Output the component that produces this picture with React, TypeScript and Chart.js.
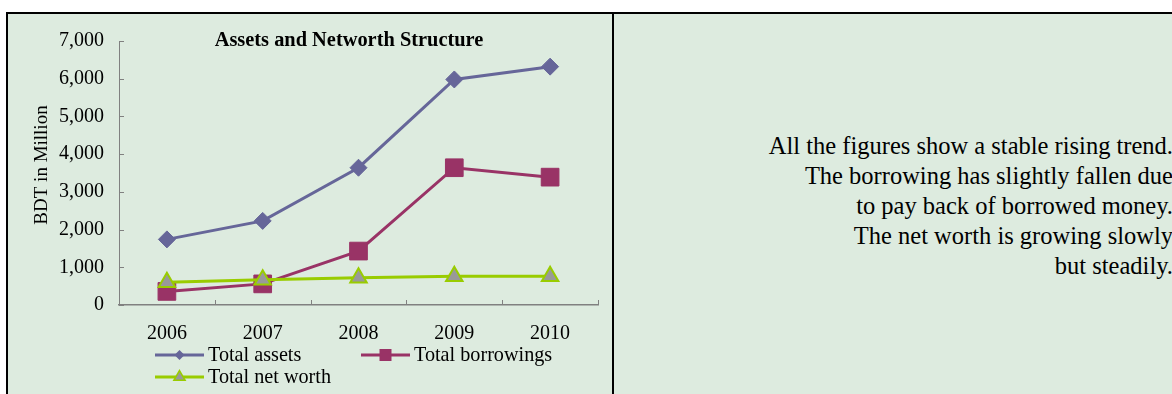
import React, { useEffect, useRef } from "react";
import { Chart, registerables } from "chart.js";

Chart.register(...registerables);

const years = ["2006", "2007", "2008", "2009", "2010"];
const totalAssets = [1740, 2230, 3640, 5980, 6320];
const totalBorrowings = [360, 560, 1430, 3640, 3390];
const totalNetWorth = [600, 670, 720, 760, 760];
const yTicks = [0, 1000, 2000, 3000, 4000, 5000, 6000, 7000];
const chartTitle = "Assets and Networth Structure";
const yTitle = "BDT in Million";
const seriesNames = ["Total assets", "Total borrowings", "Total net worth"];
const notes = [
  "All the figures show a stable rising trend.",
  "The borrowing has slightly fallen due",
  "to pay back of borrowed money.",
  "The net worth is growing slowly",
  "but steadily.",
];

const BG = "#DDEBDF";
const SERIF = "'Liberation Serif', 'Times New Roman', serif";
const C_ASSETS = "#666699";
const C_BORROW = "#993366";
const C_NET = "#99CC00";
const C_TRI = "#999999";

function drawMarker(ctx: CanvasRenderingContext2D, kind: string, x: number, y: number, r: number, fill: string, stroke: string, bw: number) {
  ctx.save();
  ctx.beginPath();
  if (kind === "diamond") {
    ctx.moveTo(x, y - r);
    ctx.lineTo(x + r, y);
    ctx.lineTo(x, y + r);
    ctx.lineTo(x - r, y);
    ctx.closePath();
  } else if (kind === "square") {
    ctx.rect(x - r, y - r, 2 * r, 2 * r);
  } else {
    const h = r * 1.5;
    const w = r * Math.sqrt(3);
    ctx.moveTo(x, y - r);
    ctx.lineTo(x + w / 2, y - r + h);
    ctx.lineTo(x - w / 2, y - r + h);
    ctx.closePath();
  }
  ctx.fillStyle = fill;
  ctx.fill();
  if (bw > 0) {
    ctx.lineWidth = bw;
    ctx.strokeStyle = stroke;
    ctx.stroke();
  }
  ctx.restore();
}

const decorPlugin = {
  id: "decor",
  beforeDatasetsDraw(chart: any) {
    const ctx = chart.ctx as CanvasRenderingContext2D;
    const xs = chart.scales.x;
    const ys = chart.scales.y;
    const { left, right, bottom } = chart.chartArea;
    ctx.save();
    ctx.strokeStyle = "#808080";
    ctx.lineWidth = 1;
    ctx.beginPath();
    for (const t of ys.ticks) {
      const py = Math.round(ys.getPixelForValue(t.value)) + 0.5;
      ctx.moveTo(left, py);
      ctx.lineTo(left + 5, py);
    }
    const n = years.length;
    for (let i = 0; i <= n; i++) {
      const px = Math.round(left + (i * (right - left)) / n) + 0.5;
      ctx.moveTo(px, bottom);
      ctx.lineTo(px, bottom - 5);
    }
    ctx.stroke();
    ctx.restore();
  },
  afterDraw(chart: any) {
    const ctx = chart.ctx as CanvasRenderingContext2D;
    ctx.save();
    ctx.fillStyle = "#000";
    // title
    ctx.font = `bold 20.4px ${SERIF}`;
    ctx.textAlign = "center";
    ctx.textBaseline = "alphabetic";
    ctx.fillText(chartTitle, 341, 31.6);
    // y title
    ctx.save();
    ctx.translate(33.7, 151);
    ctx.rotate(-Math.PI / 2);
    ctx.font = `19px ${SERIF}`;
    ctx.textAlign = "center";
    ctx.textBaseline = "middle";
    ctx.fillText(yTitle, 0, 0);
    ctx.restore();
    // legend
    const items = [
      { x: 147, y: 341, kind: "diamond", color: C_ASSETS, fill: C_ASSETS, r: 5, bw: 0 },
      { x: 353, y: 341, kind: "square", color: C_BORROW, fill: C_BORROW, r: 6, bw: 0 },
      { x: 147, y: 363, kind: "triangle", color: C_NET, fill: C_TRI, r: 6.5, bw: 1.5 },
    ];
    ctx.font = `20.2px ${SERIF}`;
    ctx.textAlign = "left";
    ctx.textBaseline = "middle";
    items.forEach((it, i) => {
      ctx.strokeStyle = it.color;
      ctx.lineWidth = 3;
      ctx.beginPath();
      ctx.moveTo(it.x, it.y);
      ctx.lineTo(it.x + 49, it.y);
      ctx.stroke();
      drawMarker(ctx, it.kind, it.x + 24.5, it.y, it.r, it.fill, it.color, it.bw);
      ctx.fillStyle = "#000";
      ctx.fillText(seriesNames[i], it.x + 53, it.y + 1);
    });
    ctx.restore();
  },
};

export default function App() {
  const ref = useRef<HTMLCanvasElement | null>(null);
  useEffect(() => {
    document.body.style.overflow = "hidden";
    if (!ref.current) return;
    const chart = new Chart(ref.current, {
      type: "line",
      data: {
        labels: years,
        datasets: [
          {
            label: seriesNames[0],
            data: totalAssets,
            borderColor: C_ASSETS,
            backgroundColor: C_ASSETS,
            borderWidth: 3,
            pointStyle: "rectRot",
            pointRadius: 8.5,
            pointBorderWidth: 1,
            pointBackgroundColor: C_ASSETS,
            pointBorderColor: C_ASSETS,
            tension: 0,
            order: 2,
          },
          {
            label: seriesNames[1],
            data: totalBorrowings,
            borderColor: C_BORROW,
            backgroundColor: C_BORROW,
            borderWidth: 3,
            pointStyle: "rect",
            pointRadius: 12.5,
            pointBorderWidth: 1,
            pointBackgroundColor: C_BORROW,
            pointBorderColor: C_BORROW,
            tension: 0,
            order: 1,
          },
          {
            label: seriesNames[2],
            data: totalNetWorth,
            borderColor: C_NET,
            backgroundColor: C_TRI,
            borderWidth: 3,
            pointStyle: "triangle",
            pointRadius: 9.5,
            pointBorderWidth: 2,
            pointBackgroundColor: C_TRI,
            pointBorderColor: C_NET,
            tension: 0,
            order: 0,
          },
        ],
      },
      options: {
        animation: false,
        responsive: false,
        devicePixelRatio: 1,
        events: [],
        layout: { padding: { top: 25, right: 14, left: 0, bottom: 0 } },
        plugins: {
          legend: { display: false },
          title: { display: false },
          tooltip: { enabled: false },
        },
        scales: {
          x: {
            type: "category",
            offset: true,
            grid: { display: false, drawTicks: false, offset: true },
            border: { display: true, color: "#808080", width: 1.5 },
            ticks: {
              color: "#000",
              font: { family: SERIF, size: 20 },
              padding: 16.5,
              maxRotation: 0,
              autoSkip: false,
            },
            afterFit: (s: any) => {
              s.height = 89;
            },
          },
          y: {
            min: 0,
            max: 7000,
            grid: { display: false, drawTicks: false },
            border: { display: true, color: "#808080", width: 1 },
            afterBuildTicks: (s: any) => {
              s.ticks = yTicks.map((v) => ({ value: v }));
            },
            ticks: {
              color: "#000",
              font: { family: SERIF, size: 20 },
              padding: 15,
              callback: (v: any) => Number(v).toLocaleString("en-US"),
            },
            afterFit: (s: any) => {
              s.width = 111;
            },
          },
        },
      },
      plugins: [decorPlugin],
    } as any);
    return () => chart.destroy();
  }, []);

  return (
    <div
      style={{
        position: "fixed",
        left: 6,
        top: 12,
        width: 1200,
        height: 420,
        border: "2px solid #000",
        background: BG,
        overflow: "hidden",
      }}
    >
      <div style={{ position: "absolute", left: 0, top: 0, width: 604, height: 380 }}>
        <canvas ref={ref} width={604} height={380} style={{ display: "block" }} />
      </div>
      <div style={{ position: "absolute", left: 604, top: 0, width: 2, height: 420, background: "#000" }} />
      <div
        style={{
          position: "absolute",
          left: 620,
          width: 545,
          top: 117,
          textAlign: "right",
          fontFamily: SERIF,
          fontSize: 24.5,
          lineHeight: "30px",
          color: "#000",
          whiteSpace: "nowrap",
        }}
      >
        {notes.map((t, i) => (
          <div key={i}>{t}</div>
        ))}
      </div>
    </div>
  );
}
